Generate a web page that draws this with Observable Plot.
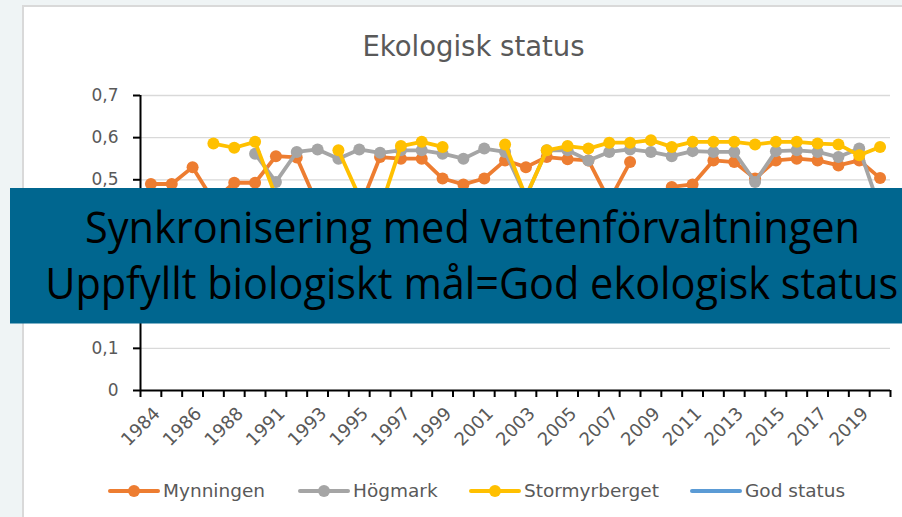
<!DOCTYPE html>
<html>
<head>
<meta charset="utf-8">
<script src="https://cdn.jsdelivr.net/npm/d3@7"></script>
<script src="https://cdn.jsdelivr.net/npm/@observablehq/plot@0.6"></script>
<style>
  html, body { margin: 0; padding: 0; }
  body { width: 902px; height: 517px; overflow: hidden; position: relative; background: #eff4f5; font-family: "DejaVu Sans", sans-serif; }
  #panel { position: absolute; left: 22px; top: 5px; width: 900px; height: 530px; background: #fff; border-left: 2px solid #d9d9d9; border-top: 2px solid #d9d9d9; }
  #chart { position: absolute; left: 24px; top: 7px; }
  #title { position: absolute; left: 0; width: 947px; top: 32.7px; text-align: center; font-size: 27.5px; line-height: 27.5px; color: #595959; white-space: nowrap; }
  .leg { position: absolute; top: 482px; height: 18px; display: flex; align-items: center; font-size: 18.5px; line-height: 18px; color: #595959; white-space: nowrap; }
  .leg svg { display: block; margin-right: 3px; }
  #overlay { position: absolute; left: 0; top: 0; }
</style>
</head>
<body>
<div id="panel"></div>
<div id="chart"></div>
<div id="title">Ekologisk status</div>
<div id="legend"></div>
<svg id="overlay" width="902" height="517"></svg>
<script>
// Categories (one year missing between 1988 and 1991 in the source chart)
const years = [1984, 1985, 1986, 1987, 1988, 1989, 1991, 1992, 1993, 1994, 1995, 1996, 1997, 1998, 1999, 2000, 2001, 2002, 2003, 2004, 2005, 2006, 2007, 2008, 2009, 2010, 2011, 2012, 2013, 2014, 2015, 2016, 2017, 2018, 2019, 2020];

const mynningen = [0.49, 0.49, 0.53, 0.45, 0.493, 0.493, 0.556, 0.553, 0.44, 0.38, 0.43, 0.554, 0.55, 0.55, 0.503, 0.489, 0.503, 0.546, 0.53, 0.554, 0.549, 0.546, 0.45, 0.542, null, 0.483, 0.489, 0.546, 0.542, 0.503, 0.546, 0.55, 0.546, 0.534, 0.546, 0.504];

const hogmark = [null, null, null, null, null, 0.562, 0.495, 0.566, 0.572, 0.55, 0.572, 0.564, 0.57, 0.57, 0.562, 0.55, 0.574, 0.566, 0.46, 0.57, 0.57, 0.546, 0.566, 0.572, 0.566, 0.556, 0.568, 0.566, 0.566, 0.495, 0.568, 0.57, 0.566, 0.554, 0.574, 0.43];

const stormyrberget = [null, null, null, 0.586, 0.576, 0.59, 0.46, null, null, 0.57, 0.46, 0.43, 0.58, 0.59, 0.578, null, null, 0.584, 0.46, 0.57, 0.58, 0.574, 0.588, 0.588, 0.594, 0.578, 0.59, 0.59, 0.59, 0.584, 0.59, 0.59, 0.586, 0.584, 0.558, 0.578];

const godStatus = [0.4, 0.4, 0.4, 0.4, 0.4, 0.4, 0.4, 0.4, 0.4, 0.4, 0.4, 0.4, 0.4, 0.4, 0.4, 0.4, 0.4, 0.4, 0.4, 0.4, 0.4, 0.4, 0.4, 0.4, 0.4, 0.4, 0.4, 0.4, 0.4, 0.4, 0.4, 0.4, 0.4, 0.4, 0.4, 0.4];

const seriesNames = ["Mynningen", "Högmark", "Stormyrberget", "God status"];
const seriesColors = ["#ed7d31", "#a5a5a5", "#ffc000", "#5b9bd5"];
const seriesMarkers = [true, true, true, false];
const yTicks = [0, 0.1, 0.2, 0.3, 0.4, 0.5, 0.6, 0.7];

const overlayLines = ["Synkronisering med vattenförvaltningen", "Uppfyllt biologiskt mål=God ekologisk status"];

const seriesValues = [mynningen, hogmark, stormyrberget, godStatus];
const series = seriesNames.map((name, k) => ({
  name, color: seriesColors[k], marker: seriesMarkers[k],
  rows: seriesValues[k].map((v, i) => ({year: years[i], pos: i + 0.5, value: v}))
}));

const fmt = d => d === 0 ? "0" : d3.format(".1f")(d).replace(".", ",");
const boundaries = years.map((_, i) => i).concat([years.length]);
const labelPos = years.map((_, i) => i + 0.5).filter((_, i) => i % 2 === 0);

const marks = [
  Plot.gridY(yTicks.filter(d => d > 0), {stroke: "#d9d9d9", strokeOpacity: 1, strokeWidth: 1.3}),
  Plot.axisY(yTicks, {tickSize: 7, tickFormat: () => "", color: "#000", strokeWidth: 2, label: null}),
  Plot.axisY(yTicks, {tickSize: 0, tickPadding: 22, tickFormat: fmt, color: "#595959", fontSize: 17, label: null}),
  Plot.axisX(boundaries, {tickSize: 7, tickFormat: () => "", color: "#000", strokeWidth: 2, label: null}),
  Plot.axisX(labelPos, {tickSize: 0, tickPadding: 20, dx: 6, tickRotate: -45, tickFormat: d => String(years[Math.floor(d)]), color: "#595959", fontSize: 18, label: null}),
  Plot.ruleX([0], {stroke: "#000", strokeWidth: 2}),
  Plot.ruleY([0], {stroke: "#000", strokeWidth: 2})
];
for (const s of series) {
  marks.push(Plot.line(s.rows, {x: "pos", y: "value", stroke: s.color, strokeWidth: 3.8, strokeLinejoin: "round", strokeLinecap: "round"}));
  if (s.marker) marks.push(Plot.dot(s.rows, {x: "pos", y: "value", fill: s.color, r: 6, stroke: "none"}));
}

const chart = Plot.plot({
  width: 878,
  height: 433,
  marginLeft: 116,
  marginRight: 12,
  marginTop: 88,
  marginBottom: 50,
  style: {background: "transparent", fontFamily: "DejaVu Sans", fontSize: "17px", overflow: "visible"},
  x: {type: "linear", domain: [0, years.length], label: null},
  y: {domain: [0, 0.7], label: null},
  marks
});
document.getElementById("chart").appendChild(chart);

// Legend (line + marker swatches as in the original)
const legendX = [108, 298, 469, 690];
const legend = document.getElementById("legend");
series.forEach((s, k) => {
  const item = document.createElement("div");
  item.className = "leg";
  item.style.left = legendX[k] + "px";
  const ns = "http://www.w3.org/2000/svg";
  const sw = document.createElementNS(ns, "svg");
  sw.setAttribute("width", 52); sw.setAttribute("height", 18);
  const ln = document.createElementNS(ns, "line");
  ln.setAttribute("x1", 2); ln.setAttribute("x2", 50); ln.setAttribute("y1", 9); ln.setAttribute("y2", 9);
  ln.setAttribute("stroke", s.color); ln.setAttribute("stroke-width", 4); ln.setAttribute("stroke-linecap", "round");
  sw.appendChild(ln);
  if (s.marker) {
    const c = document.createElementNS(ns, "circle");
    c.setAttribute("cx", 26); c.setAttribute("cy", 9); c.setAttribute("r", 6); c.setAttribute("fill", s.color);
    sw.appendChild(c);
  }
  item.appendChild(sw);
  const t = document.createElement("span");
  t.textContent = s.name;
  item.appendChild(t);
  legend.appendChild(item);
});

// Overlay banner
const ov = d3.select("#overlay");
ov.append("rect").attr("x", 10).attr("y", 188).attr("width", 892).attr("height", 135.5).attr("fill", "#00668f");
const lineY = [242.7, 299.3];
const lineLen = [775, 853];
const lineCx = [472.5, 471.7];
overlayLines.forEach((txt, k) => {
  ov.append("text")
    .attr("x", lineCx[k]).attr("y", lineY[k])
    .attr("text-anchor", "middle")
    .attr("font-family", "Open Sans")
    .attr("font-size", 43)
    .attr("fill", "#000")
    .attr("textLength", lineLen[k])
    .attr("lengthAdjust", "spacingAndGlyphs")
    .text(txt);
});
</script>
</body>
</html>
